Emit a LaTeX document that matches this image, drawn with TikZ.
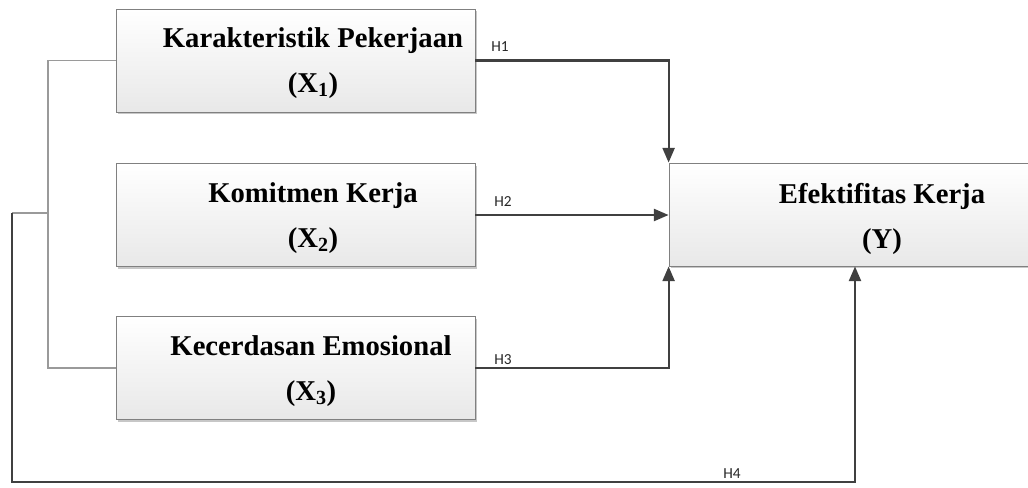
\documentclass[tikz,border=0pt]{standalone}
\usepackage{fontspec}
\setmainfont{Liberation Serif}
\newfontfamily\hfont{Carlito}
\usetikzlibrary{arrows.meta,shadows}
\definecolor{conncol}{HTML}{404040}
\definecolor{brkcol}{HTML}{9A9A9A}
\definecolor{boxline}{HTML}{808080}
\tikzset{
  varbox/.style={rectangle, draw=boxline, line width=0.6pt, top color=white, bottom color=black!9,
    minimum width=269.25pt, minimum height=77.25pt, inner sep=0pt,
    drop shadow={shadow xshift=1.5pt, shadow yshift=-1.5pt, fill=black!22, opacity=1}},
  vartext/.style={align=center, font=\fontsize{21.5}{33.75}\selectfont\bfseries, inner sep=0pt},
  conn/.style={draw=conncol, line width=1.6pt},
  arr/.style={conn, -{Triangle[length=11pt,width=9pt]}},
  brk/.style={draw=brkcol, line width=0.9pt},
  hlab/.style={font=\hfont\fontsize{11.5}{13}\selectfont, inner sep=0pt, text=black!85}
}
\begin{document}
\begin{tikzpicture}[x=0.75pt,y=-0.75pt]
\useasboundingbox (0,0) rectangle (1028,487);
% boxes
\node[varbox] (b1) at (295.5,60.5) {};
\node[varbox] (b2) at (295.5,215) {};
\node[varbox] (b3) at (295.5,368) {};
\node[varbox, minimum width=274.5pt] (y) at (852,214.5) {};
% texts
\node[vartext] (t1) at (313,63) {Karakteristik Pekerjaan\\(X\textsubscript{1})};
\node[vartext] (t2) at (313,218) {Komitmen Kerja\\(X\textsubscript{2})};
\node[vartext] (t3) at (311,371) {Kecerdasan Emosional\\(X\textsubscript{3})};
\node[vartext] (ty) at (882,219) {Efektifitas Kerja\\(Y)};
% bracket
\coordinate (bx) at (48,213);
\coordinate (h4s) at (12,213);
\coordinate (h4c) at (855,482);
\draw[brk] (b1.west) -| (bx) |- (b3.west);
\draw[brk] (bx) -- (h4s);
% hypotheses
\draw[arr] (b1.east) -| (y.north west);
\draw[arr] (b2.east) -- (b2.east -| y.west);
\draw[arr] (b3.east) -| (y.south west);
\draw[arr] (h4s) |- (h4c) -- (h4c |- y.south);
% labels
\node[hlab] (l1) at (500,47) {H1};
\node[hlab] (l2) at (503,202) {H2};
\node[hlab] (l3) at (503,360) {H3};
\node[hlab] (l4) at (732,474) {H4};
\end{tikzpicture}
\end{document}
